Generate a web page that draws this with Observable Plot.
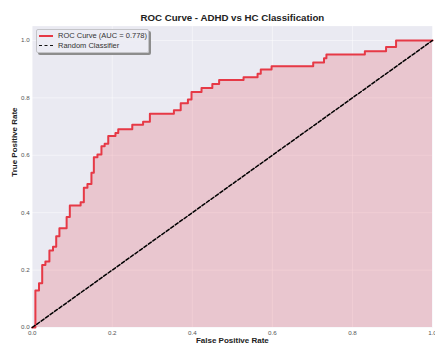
<!DOCTYPE html>
<html>
<head>
<meta charset="utf-8">
<script src="https://cdn.jsdelivr.net/npm/d3@7"></script>
<script src="https://cdn.jsdelivr.net/npm/@observablehq/plot@0.6"></script>
<style>
  html, body { margin: 0; padding: 0; background: #fff; }
  #wrap { position: relative; width: 435px; height: 349px; font-family: "Liberation Sans", Arial, sans-serif; }
  #wrap svg { position: absolute; left: 0; top: 0; }
  .tick-lbl text { fill: #555; }
  #legend {
    position: absolute; left: 36px; top: 29px; width: 111px; height: 22px;
    background: rgba(236,236,243,0.95); border: 1px solid #c4c4c8; border-radius: 2px;
    box-shadow: 2px 2px 0 #8d8d8d; font-size: 7.5px; color: #333;
  }
  .item { position: absolute; left: 0; height: 10px; line-height: 10px; white-space: nowrap; }
  .item .sw { position: absolute; left: 2px; top: 4px; width: 14px; height: 0; }
  .item .lb { position: absolute; left: 21px; top: 0; }
</style>
</head>
<body>
<div id="wrap">
  <div id="chart"></div>
  <div id="legend">
    <div class="item" style="top:1px"><div class="sw" style="border-top:2px solid #e63946"></div><span class="lb" id="l1"></span></div>
    <div class="item" style="top:11px"><div class="sw" style="border-top:1.5px dashed #111"></div><span class="lb" id="l2"></span></div>
  </div>
</div>
<script>
// ROC curve vertices (false positive rate, true positive rate)
const fpr = [0, 0.008, 0.017, 0.025, 0.033, 0.043, 0.052, 0.060, 0.068, 0.086, 0.094,
  0.121, 0.129, 0.138, 0.148, 0.154, 0.163, 0.173, 0.181, 0.190, 0.208, 0.215,
  0.250, 0.277, 0.294, 0.354, 0.371, 0.389, 0.398, 0.423, 0.450, 0.467, 0.528,
  0.563, 0.571, 0.598, 0.702, 0.729, 0.735, 0.831, 0.884, 0.909, 1.0];
const tpr = [0, 0.129, 0.154, 0.218, 0.230, 0.268, 0.281, 0.318, 0.346, 0.385, 0.425,
  0.436, 0.487, 0.500, 0.539, 0.593, 0.603, 0.631, 0.640, 0.667, 0.678, 0.691,
  0.706, 0.717, 0.745, 0.757, 0.781, 0.794, 0.820, 0.834, 0.848, 0.862, 0.872,
  0.884, 0.899, 0.910, 0.923, 0.938, 0.951, 0.962, 0.977, 1.0, 1.0];
const auc = 0.778;
const diagX = [0, 1];
const diagY = [0, 1];
const ticks = [0, 0.2, 0.4, 0.6, 0.8, 1.0];
const titleText = "ROC Curve - ADHD vs HC Classification";
const xLabel = "False Positive Rate";
const yLabel = "True Positive Rate";
const legendLabels = [`ROC Curve (AUC = ${auc})`, "Random Classifier"];

const roc = fpr.map((f, i) => ({fpr: f, tpr: tpr[i]}));
const diag = diagX.map((d, i) => ({x: d, y: diagY[i]}));

const red = "#e63946";
const chart = Plot.plot({
  width: 435, height: 349,
  marginLeft: 31.7, marginRight: 3, marginTop: 25.6, marginBottom: 22,
  x: {domain: [0, 1]},
  y: {domain: [0, 1.05]},
  style: {fontFamily: "Liberation Sans, Arial, sans-serif", background: "transparent", overflow: "visible"},
  marks: [
    Plot.frame({fill: "#eaeaf2", stroke: null}),
    Plot.gridX(ticks, {stroke: "#fff", strokeOpacity: 0.6, strokeWidth: 0.8}),
    Plot.gridY(ticks, {stroke: "#fff", strokeOpacity: 0.6, strokeWidth: 0.8}),
    Plot.areaY(roc, {x: "fpr", y: "tpr", curve: "step-after", fill: red, fillOpacity: 0.2}),
    Plot.line(roc, {x: "fpr", y: "tpr", curve: "step-after", stroke: red, strokeWidth: 2}),
    Plot.line(diag, {x: "x", y: "y", stroke: "#000", strokeWidth: 1.5, strokeDasharray: "3.5,2"}),
    Plot.axisX(ticks, {tickSize: 0, tickPadding: 3, fontSize: 6.2, tickFormat: d3.format(".1f"), label: null, className: "tick-lbl"}),
    Plot.axisY(ticks, {tickSize: 0, tickPadding: 2.5, fontSize: 6.2, tickFormat: d3.format(".1f"), label: null, className: "tick-lbl"}),
    Plot.text([titleText], {frameAnchor: "top", dy: -12, text: d => d, fontSize: 9.7, fontWeight: "bold", fill: "#222"}),
    Plot.text([xLabel], {frameAnchor: "bottom", dy: 15, text: d => d, fontSize: 8, fontWeight: "bold", fill: "#222"}),
    Plot.text([yLabel], {frameAnchor: "left", dx: -17.5, rotate: -90, text: d => d, fontSize: 8, fontWeight: "bold", fill: "#222"})
  ]
});
document.getElementById("chart").appendChild(chart);
document.getElementById("l1").textContent = legendLabels[0];
document.getElementById("l2").textContent = legendLabels[1];
</script>
</body>
</html>
